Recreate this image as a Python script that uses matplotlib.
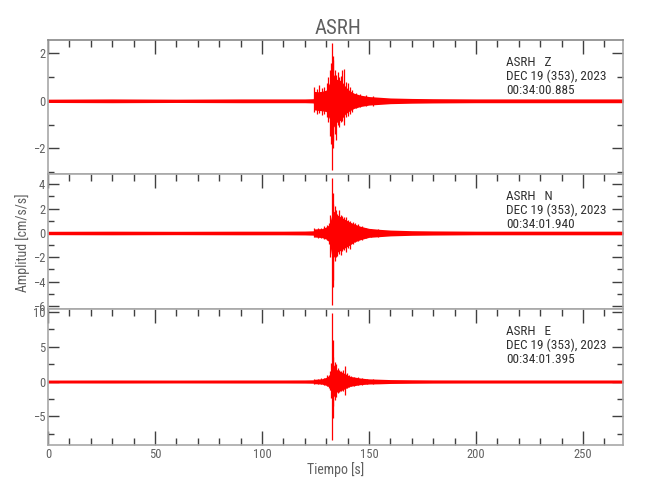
import matplotlib.pyplot as plt
from matplotlib import font_manager
from matplotlib.ticker import MultipleLocator

# prefer a narrow face if one is installed
names = {f.name for f in font_manager.fontManager.ttflist}
narrow = [n for n in ['Liberation Sans Narrow', 'DejaVu Sans Condensed', 'Roboto Condensed'] if n in names]
plt.rcParams['font.family'] = narrow + ['DejaVu Sans']
plt.rcParams['font.stretch'] = 'condensed'
print(sorted(n for n in names if 'ondens' in n or 'arrow' in n))

# --- data (time in s, amplitude in cm/s/s) ---
t_end = 268.7

# background envelope knots per component
z_env_t  = [0, 30, 60, 90, 110, 120, 124.0, 124.4, 126, 128, 130, 131.5, 132.5, 133.5, 135, 137, 139, 141, 143, 146, 150, 155, 160, 170, 180, 200, 268.7]
z_env_up = [0.07, 0.08, 0.07, 0.08, 0.08, 0.08, 0.09, 0.40, 0.38, 0.40, 0.45, 0.75, 1.10, 1.10, 0.90, 0.85, 0.60, 0.42, 0.32, 0.24, 0.18, 0.15, 0.12, 0.10, 0.09, 0.08, 0.08]
z_env_lo = [-0.07, -0.08, -0.07, -0.08, -0.08, -0.08, -0.09, -0.38, -0.40, -0.42, -0.45, -0.75, -1.20, -1.10, -0.90, -0.80, -0.55, -0.42, -0.32, -0.24, -0.18, -0.15, -0.12, -0.10, -0.09, -0.08, -0.08]

n_env_t  = [0, 30, 60, 90, 110, 120, 124.0, 124.4, 126, 128, 130, 131.5, 132.5, 133.5, 135, 137, 139, 141, 143, 146, 150, 155, 160, 170, 180, 200, 268.7]
n_env_up = [0.14, 0.15, 0.14, 0.15, 0.15, 0.16, 0.18, 0.33, 0.35, 0.36, 0.50, 0.70, 1.40, 1.80, 1.50, 1.30, 1.10, 0.90, 0.75, 0.55, 0.38, 0.30, 0.24, 0.19, 0.17, 0.15, 0.15]
n_env_lo = [-0.14, -0.15, -0.14, -0.15, -0.15, -0.16, -0.18, -0.33, -0.35, -0.38, -0.50, -0.75, -1.80, -2.00, -1.60, -1.40, -1.20, -1.00, -0.75, -0.55, -0.36, -0.30, -0.24, -0.19, -0.17, -0.15, -0.15]

e_env_t  = [0, 30, 60, 90, 110, 120, 124.0, 124.4, 126, 128, 130, 131.5, 132.5, 133.5, 135, 137, 139, 141, 143, 146, 150, 155, 160, 170, 180, 200, 268.7]
e_env_up = [0.21, 0.22, 0.21, 0.22, 0.22, 0.23, 0.25, 0.32, 0.35, 0.40, 0.60, 0.90, 2.00, 2.40, 1.70, 1.40, 1.10, 0.75, 0.65, 0.50, 0.38, 0.33, 0.28, 0.25, 0.23, 0.22, 0.22]
e_env_lo = [-0.21, -0.22, -0.21, -0.22, -0.22, -0.23, -0.25, -0.32, -0.33, -0.38, -0.55, -0.80, -1.80, -2.20, -1.50, -1.30, -1.00, -0.70, -0.60, -0.45, -0.36, -0.33, -0.28, -0.25, -0.23, -0.22, -0.22]

# individual peaks (time, max, min)
z_pk_t  = [124.5, 125.5, 126.8, 128.0, 129.2, 130.3, 131.0, 131.7, 132.2, 132.6, 133.0, 133.4, 134.0, 134.6, 135.3, 136.0, 136.8, 137.3, 138.3, 139.2, 140.1, 141.0, 142.2, 144.0, 146.0, 148.5, 152.0]
z_pk_hi = [0.60, 0.50, 0.65, 0.55, 0.60, 0.75, 1.00, 1.30, 1.60, 2.42, 1.90, 1.70, 1.30, 1.10, 1.20, 1.00, 1.05, 1.30, 1.35, 0.80, 0.75, 0.60, 0.45, 0.35, 0.30, 0.25, 0.20]
z_pk_lo = [-0.45, -0.55, -0.50, -0.60, -0.55, -0.70, -0.90, -1.50, -1.80, -2.90, -1.70, -2.00, -1.40, -1.64, -1.00, -1.10, -0.90, -0.85, -1.00, -0.70, -0.65, -0.55, -0.45, -0.30, -0.28, -0.22, -0.20]

n_pk_t  = [124.5, 126.0, 127.5, 129.0, 130.2, 131.3, 132.0, 132.6, 133.0, 133.4, 133.9, 134.5, 135.2, 136.0, 136.8, 137.6, 138.5, 139.4, 140.3, 141.3, 142.4, 143.6, 145.0, 146.5, 148.5, 151.0, 154.0]
n_pk_hi = [0.40, 0.45, 0.40, 0.55, 0.65, 0.80, 1.50, 4.55, 3.30, 2.40, 2.20, 1.90, 1.60, 1.90, 1.50, 1.40, 1.30, 1.30, 1.10, 1.00, 0.90, 0.80, 0.70, 0.55, 0.40, 0.35, 0.30]
n_pk_lo = [-0.35, -0.40, -0.45, -0.50, -0.60, -0.90, -2.00, -5.95, -4.40, -3.90, -2.30, -2.00, -1.90, -1.70, -1.80, -1.50, -1.40, -1.60, -1.20, -1.30, -0.90, -0.75, -0.70, -0.55, -0.40, -0.33, -0.30]

e_pk_t  = [124.5, 126.0, 127.5, 129.0, 130.2, 131.2, 131.9, 132.3, 132.6, 133.0, 133.4, 134.0, 134.7, 135.4, 136.2, 137.0, 137.8, 138.8, 139.6, 140.6, 141.8, 143.2, 144.8, 146.5, 149.0, 152.0]
e_pk_hi = [0.35, 0.40, 0.45, 0.50, 0.90, 1.00, 1.50, 2.60, 9.85, 6.00, 3.50, 2.80, 2.50, 1.90, 1.70, 1.50, 1.60, 2.20, 1.20, 0.90, 0.80, 0.70, 0.60, 0.50, 0.40, 0.35]
e_pk_lo = [-0.35, -0.35, -0.40, -0.45, -0.70, -0.90, -1.20, -2.40, -8.40, -5.30, -3.50, -2.60, -2.20, -1.60, -1.50, -1.40, -1.30, -1.90, -1.00, -0.80, -0.70, -0.65, -0.55, -0.45, -0.40, -0.35]

panels = [
    ('Z', z_env_t, z_env_up, z_env_lo, z_pk_t, z_pk_hi, z_pk_lo, (-3.08, 2.56), 2, 1, '00:34:00.885'),
    ('N', n_env_t, n_env_up, n_env_lo, n_pk_t, n_pk_hi, n_pk_lo, (-6.25, 4.85), 2, 1, '00:34:01.940'),
    ('E', e_env_t, e_env_up, e_env_lo, e_pk_t, e_pk_hi, e_pk_lo, (-9.13, 10.43), 5, 2.5, '00:34:01.395'),
]

W, H = 650, 500
fig = plt.figure(figsize=(W / 100, H / 100), dpi=100)
left, right = 48, 623
edges = [40, 174, 309, 445]
frame = '#a8a8a8'
txt = '#606060'

for i, (comp, et, eu, el, pt, ph, pl, ylim, ymaj, ymin, hhmm) in enumerate(panels):
    top, bot = edges[i], edges[i + 1]
    ax = fig.add_axes([left / W, 1 - bot / H, (right - left) / W, (bot - top) / H])
    ax.fill_between(et, el, eu, color='red', lw=0, zorder=2)
    ax.vlines(pt, pl, ph, color='red', lw=0.9, zorder=2)
    ax.set_xlim(0, t_end)
    ax.set_ylim(*ylim)
    for s in ax.spines.values():
        s.set_color(frame)
        s.set_linewidth(1.2)
    if i == 0:
        ax.spines['top'].set_color('#888888')
    ax.xaxis.set_major_locator(MultipleLocator(50))
    ax.xaxis.set_minor_locator(MultipleLocator(10))
    ax.yaxis.set_major_locator(MultipleLocator(ymaj))
    ax.yaxis.set_minor_locator(MultipleLocator(ymin))
    last = (i == 2)
    ax.tick_params(axis='x', which='both', direction='in', top=True, bottom=last,
                   labelbottom=last, colors='#404040', labelcolor=txt, labelsize=9, pad=2)
    ax.tick_params(axis='x', which='major', length=10, width=1)
    ax.tick_params(axis='x', which='minor', length=5, width=1)
    ax.tick_params(axis='y', which='both', direction='in', left=True, right=True,
                   colors='#404040', labelcolor=txt, labelsize=9, pad=2)
    ax.tick_params(axis='y', which='major', length=8, width=1)
    ax.tick_params(axis='y', which='minor', length=4, width=1)
    lines = ['ASRH   ' + comp, 'DEC 19 (353), 2023', hhmm]
    for k, s in enumerate(lines):
        ax.text((506 - left) / (right - left), 1 - (26 + 14 * k) / (bot - top), s,
                transform=ax.transAxes, fontsize=9.5, color='#303030', va='baseline', ha='left')
    if last:
        ax.set_xlabel('Tiempo [s]', fontsize=10, color=txt, labelpad=1)

fig.text(338 / W, 1 - 28 / H, 'ASRH', fontsize=15, color=txt, ha='center', va='center')
fig.text(23 / W, 1 - 243 / H, 'Amplitud [cm/s/s]', fontsize=10, color=txt,
         rotation=90, ha='center', va='center')

fig.savefig('out.png', dpi=100)
